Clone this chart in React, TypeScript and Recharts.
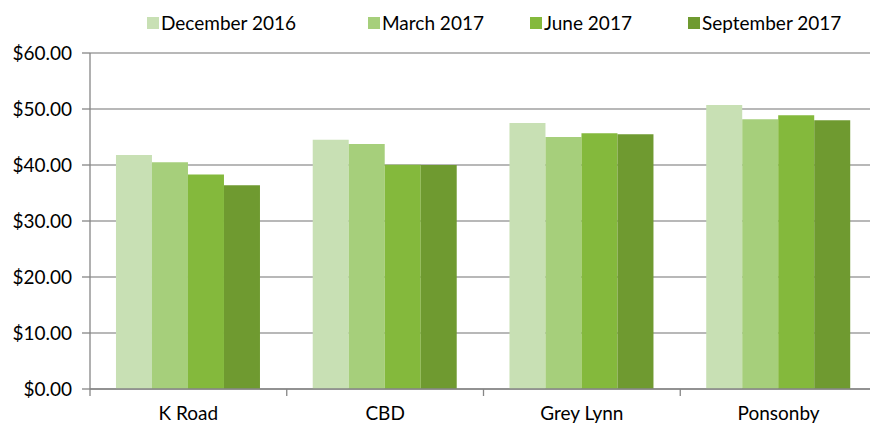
// Average price by suburb, quarterly - grouped column chart
import React from 'react';
import {
    BarChart,
    Bar,
    XAxis,
    YAxis,
    CartesianGrid
} from 'recharts';

const suburbs = ['K Road', 'CBD', 'Grey Lynn', 'Ponsonby'];
const quarters = ['December 2016', 'March 2017', 'June 2017', 'September 2017'];
const dec2016 = [41.8, 44.5, 47.5, 50.7];
const mar2017 = [40.5, 43.75, 45.0, 48.15];
const jun2017 = [38.3, 40.05, 45.65, 48.9];
const sep2017 = [36.4, 40.0, 45.5, 48.0];
const yTicks = [0, 10, 20, 30, 40, 50, 60];

const colors = ['#C8E0B4', '#A6CF7B', '#84B93C', '#6F9A30'];
const keys = ['dec', 'mar', 'jun', 'sep'];
const legendWidths = [221, 162, 158, 180];
const FONT = 'Lato, sans-serif';

const data = suburbs.map((name, i) => ({
    name,
    dec: dec2016[i],
    mar: mar2017[i],
    jun: jun2017[i],
    sep: sep2017[i]
}));

// category labels with tick marks between categories (Excel style)
const CategoryTick = (props: any) => {
    const { x, y, payload, width } = props;
    const half = payload?.offset ?? width / suburbs.length / 2;
    return (
        <g>
            <line x1={x - half} x2={x - half} y1={y} y2={y + 7} stroke="#868686" strokeWidth={1.3} />
            <text x={x} y={y + 31} textAnchor="middle" fill="#000" fontSize={19} fontFamily={FONT}>
                {payload.value}
            </text>
        </g>
    );
};

const LegendRow = () => (
    <div
        style={{
            position: 'absolute',
            left: 147,
            top: 11,
            display: 'flex',
            alignItems: 'center',
            whiteSpace: 'nowrap',
            fontFamily: FONT,
            fontSize: 19,
            color: '#000'
        }}
    >
        {quarters.map((q, i) => (
            <div key={q} style={{ display: 'flex', alignItems: 'center', width: legendWidths[i] }}>
                <span style={{ width: 12, height: 12, background: colors[i], marginRight: 2, display: 'inline-block' }} />
                <span>{q}</span>
            </div>
        ))}
    </div>
);

export default function App() {
    return (
        <div style={{ position: 'absolute', left: 0, top: 0, width: 870, height: 424, overflow: 'hidden', background: '#fff' }}>
            <BarChart
                width={878}
                height={424}
                data={data}
                margin={{ top: 53, right: 1, left: 0, bottom: 0 }}
                barCategoryGap="13.2%"
                barGap={0}
            >
                <CartesianGrid vertical={false} stroke="#A0A0A0" strokeWidth={1.5} />
                <XAxis
                    dataKey="name"
                    height={35}
                    tickSize={0}
                    tickMargin={0}
                    tickLine={false}
                    axisLine={{ stroke: '#868686', strokeWidth: 1.3 }}
                    tick={<CategoryTick />}
                    interval={0}
                />
                <YAxis
                    width={90}
                    domain={[0, 60]}
                    ticks={yTicks}
                    tickSize={8}
                    tickMargin={10}
                    tickLine={{ stroke: '#868686', strokeWidth: 1.3 }}
                    axisLine={{ stroke: '#868686', strokeWidth: 1.3 }}
                    tick={{ fill: '#000', fontSize: 19, fontFamily: FONT }}
                    tickFormatter={(v: number) => `$${v.toFixed(2)}`}
                />
                {keys.map((k, i) => (
                    <Bar key={k} dataKey={k} name={quarters[i]} fill={colors[i]} isAnimationActive={false} />
                ))}
            </BarChart>
            <LegendRow />
        </div>
    );
}
